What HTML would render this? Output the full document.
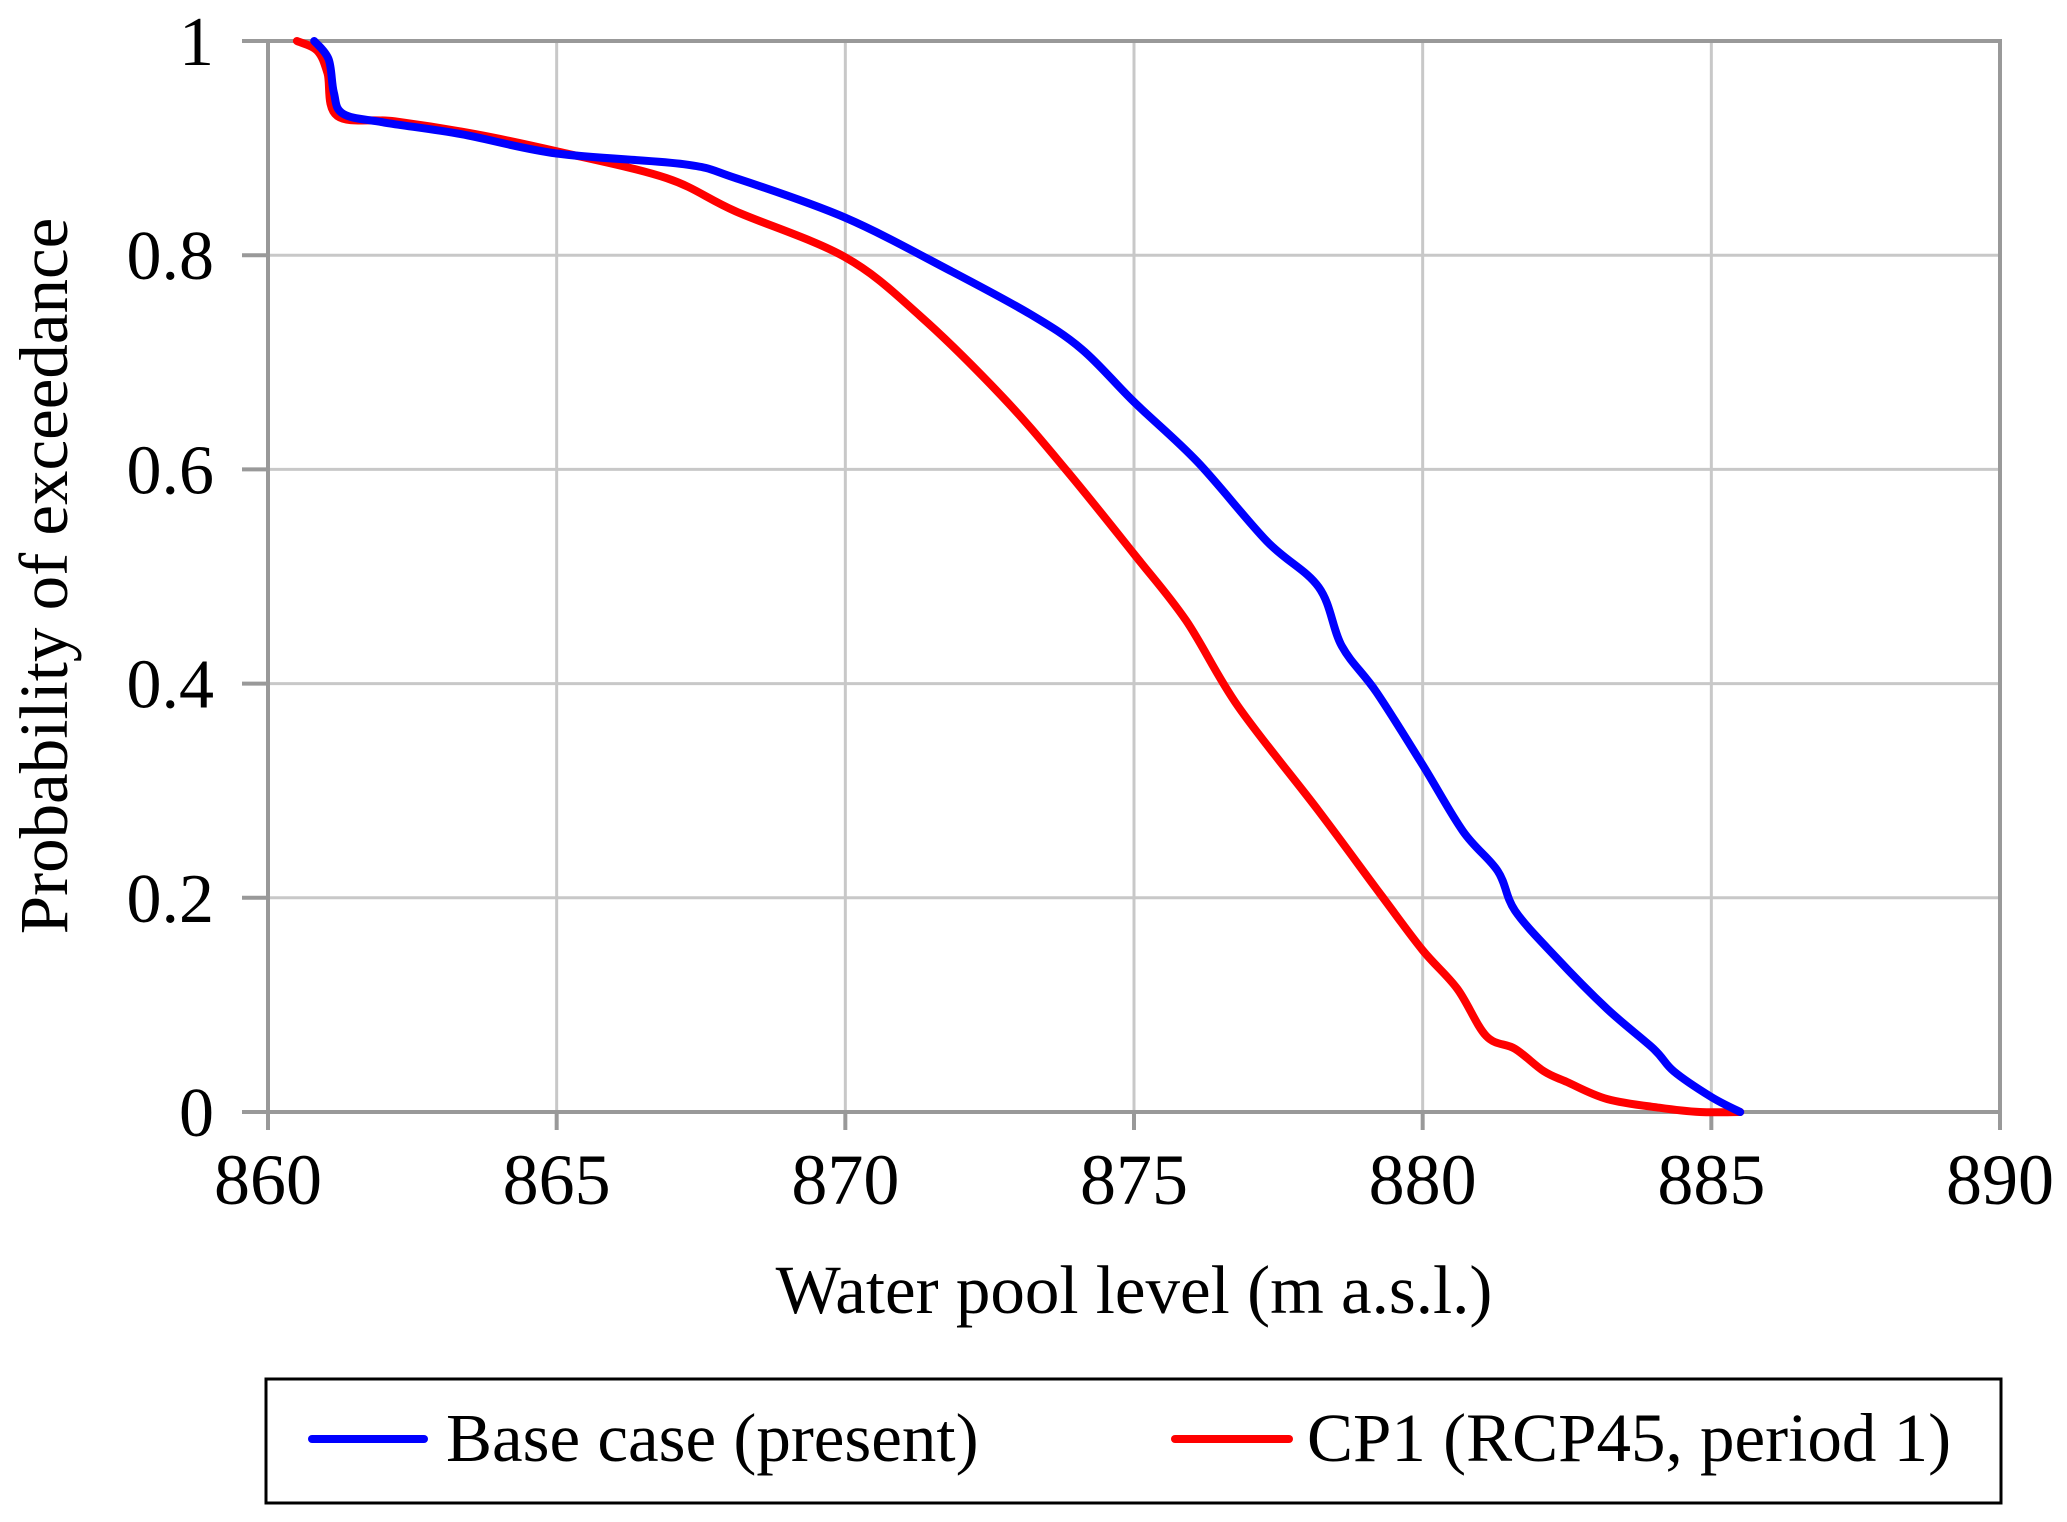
<!DOCTYPE html>
<html><head><meta charset="utf-8"><style>
html,body{margin:0;padding:0;background:#fff}
svg{display:block}
text{font-family:"Liberation Serif",serif;fill:#000}
</style></head><body>
<svg id="chart" width="2067" height="1522" viewBox="0 0 2067 1522" xmlns="http://www.w3.org/2000/svg">
<g id="grid"></g>
<g id="axes"></g>
<g id="series"></g>
<text transform="translate(67,576) rotate(-90)" text-anchor="middle" font-size="69">Probability of exceedance</text>
<text x="1134" y="1313" text-anchor="middle" font-size="69">Water pool level (m a.s.l.)</text>
<g>
<rect x="266" y="1379" width="1735" height="124" fill="#fff" stroke="#000" stroke-width="3"/>
<line x1="312" y1="1439" x2="424" y2="1439" stroke="#0000ff" stroke-width="8" stroke-linecap="round"/>
<text x="446" y="1461" font-size="69">Base case (present)</text>
<line x1="1175" y1="1439" x2="1289" y2="1439" stroke="#ff0000" stroke-width="8" stroke-linecap="round"/>
<text x="1307" y="1461" font-size="69">CP1 (RCP45, period 1)</text>
</g>
</svg>
<script>
const xTicks=[860,865,870,875,880,885,890];
const yTicks=[0,0.2,0.4,0.6,0.8,1];
const yTickLabels=["0","0.2","0.4","0.6","0.8","1"];
const baseX=[860.8,861.05,861.14,861.3,862,863.35,865,867.2,868.1,870,871.8,873.2,874.1,875,876.1,877.3,878.2,878.6,879.2,880,880.7,881.3,881.6,882.3,883.2,884,884.35,885,885.5];
const baseY=[1.0,0.983,0.952,0.932,0.924,0.913,0.895,0.885,0.872,0.835,0.786,0.745,0.712,0.663,0.607,0.533,0.49,0.435,0.392,0.324,0.262,0.225,0.188,0.145,0.096,0.059,0.038,0.014,0];
const cpX=[860.5,860.85,861.03,861.2,862.2,863.6,865,866.9,868.1,870,871.3,872.7,873.8,875,875.9,876.8,878.2,879.3,880,880.6,881.1,881.6,882.1,882.5,883.2,884.1,884.8,885.5];
const cpY=[1.0,0.991,0.97,0.93,0.925,0.913,0.897,0.872,0.841,0.798,0.743,0.669,0.601,0.521,0.459,0.379,0.281,0.201,0.151,0.115,0.071,0.059,0.038,0.028,0.012,0.004,0.0,0];

const X0=268,X1=2000,Y0=1112,Y1=41;
const sx=v=>X0+(v-860)/30*(X1-X0);
const sy=v=>Y0-v*(Y0-Y1);
const NS="http://www.w3.org/2000/svg";
function mk(tag,attrs,parent){const e=document.createElementNS(NS,tag);for(const k in attrs)e.setAttribute(k,attrs[k]);parent.appendChild(e);return e;}
const grid=document.getElementById('grid'),axes=document.getElementById('axes'),series=document.getElementById('series');
xTicks.forEach((t,i)=>{
  const l=mk('line',{x1:sx(t),x2:sx(t),y1:Y1,y2:Y0,stroke:'#c8c8c8','stroke-width':3},grid);
  
  
  const tk=mk('line',{x1:sx(t),x2:sx(t),y1:Y0,y2:Y0+18,stroke:'#999','stroke-width':4},axes);
  
  
  const tx=mk('text',{x:sx(t),y:1204,'text-anchor':'middle','font-size':72},axes);
  tx.textContent=t;
  
  
});
yTicks.forEach((t,i)=>{
  const l=mk('line',{x1:X0,x2:X1,y1:sy(t),y2:sy(t),stroke:'#c8c8c8','stroke-width':3},grid);
  
  
  const tk=mk('line',{x1:X0-26,x2:X0,y1:sy(t),y2:sy(t),stroke:'#999','stroke-width':4},axes);
  
  
  const tx=mk('text',{x:214,y:sy(t)+24,'text-anchor':'end','font-size':70},axes);
  tx.textContent=yTickLabels[i];
  
  
});
const frame=mk('rect',{x:X0,y:Y1,width:X1-X0,height:Y0-Y1,fill:'none',stroke:'#999','stroke-width':4},axes);


function line(xs,ys,color,name){
  const P=xs.map((x,i)=>[sx(x),sy(ys[i])]);
  let d='M'+P[0][0].toFixed(1)+','+P[0][1].toFixed(1);
  for(let i=0;i<P.length-1;i++){
    const p0=P[i-1]||P[i],p1=P[i],p2=P[i+1],p3=P[i+2]||P[i+1];
    const c1=[p1[0]+(p2[0]-p0[0])/6,p1[1]+(p2[1]-p0[1])/6];
    const c2=[p2[0]-(p3[0]-p1[0])/6,p2[1]-(p3[1]-p1[1])/6];
    d+=' C'+c1.map(v=>v.toFixed(1)).join(',')+' '+c2.map(v=>v.toFixed(1)).join(',')+' '+p2.map(v=>v.toFixed(1)).join(',');
  }
  const p=mk('path',{d:d,fill:'none',stroke:color,'stroke-width':8,'stroke-linejoin':'round','stroke-linecap':'round'},series);
  
  
}
line(cpX,cpY,'#ff0000','cp1-line');
line(baseX,baseY,'#0000ff','base-case-line');
</script>
</body></html>
